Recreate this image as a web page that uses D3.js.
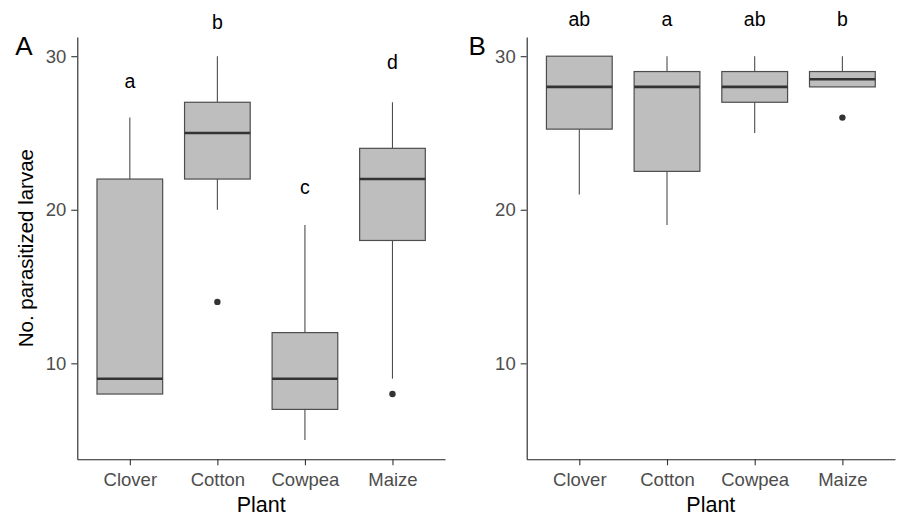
<!DOCTYPE html>
<html lang="en">
<head>
  <meta charset="UTF-8">
  <title>Parasitized larvae by plant</title>
  <script src="https://d3js.org/d3.v7.min.js"></script>
  <style>
    body { margin: 0; background: #fff; }
    text { font-family: "Liberation Sans", Arial, sans-serif; }
  </style>
</head>
<body>
  <script>
    // data
    const plants = ["Clover", "Cotton", "Cowpea", "Maize"];
    const yTicks = [10, 20, 30];

    const lowA = [8, 20, 5, 9];
    const q1A = [8, 22, 7, 18];
    const medA = [9, 25, 9, 22];
    const q3A = [22, 27, 12, 24];
    const highA = [26, 30, 19, 27];
    const outA = [[], [14], [], [8]];
    const lettersA = ["a", "b", "c", "d"];
    const letterPosA = [28.4, 32.2, 21.5, 29.6];

    const lowB = [21, 19, 25, 28];
    const q1B = [25.25, 22.5, 27, 28];
    const medB = [28, 28, 28, 28.5];
    const q3B = [30, 29, 29, 29];
    const highB = [30, 30, 30, 30];
    const outB = [[], [], [], [26]];
    const lettersB = ["ab", "a", "ab", "b"];
    const letterPosB = [32.4, 32.4, 32.4, 32.4];

    const W = 899, H = 519;
    const plotTop = 37, plotBottom = 459.3;

    const svg = d3.select("body")
      .append("svg")
      .attr("width", W)
      .attr("height", H);

    const y = d3.scaleLinear()
      .domain([3.75, 31.25])
      .range([plotBottom, plotTop]);

    const drawPanel = (label, tagX, x0, x1, low, q1, med, q3, high, outs, letters, letterPos) => {
      const x = d3.scalePoint()
        .domain(plants)
        .range([x0, x1])
        .padding(0.6);
      const bw = x.step() * 0.75;

      const g = svg.append("g");

      // whiskers
      g.selectAll(".whisker-hi")
        .data(plants)
        .join("line")
        .attr("x1", d => x(d))
        .attr("x2", d => x(d))
        .attr("y1", (d, i) => y(q3[i]))
        .attr("y2", (d, i) => y(high[i]))
        .attr("stroke", "#4d4d4d")
        .attr("stroke-width", 1.1);

      g.selectAll(".whisker-lo")
        .data(plants)
        .join("line")
        .attr("x1", d => x(d))
        .attr("x2", d => x(d))
        .attr("y1", (d, i) => y(q1[i]))
        .attr("y2", (d, i) => y(low[i]))
        .attr("stroke", "#4d4d4d")
        .attr("stroke-width", 1.1);

      // boxes
      g.selectAll(".box")
        .data(plants)
        .join("rect")
        .attr("x", d => x(d) - bw / 2)
        .attr("width", bw)
        .attr("y", (d, i) => y(q3[i]))
        .attr("height", (d, i) => y(q1[i]) - y(q3[i]))
        .attr("fill", "#bebebe")
        .attr("stroke", "#4d4d4d")
        .attr("stroke-width", 1.2);

      // medians
      g.selectAll(".median")
        .data(plants)
        .join("line")
        .attr("x1", d => x(d) - bw / 2)
        .attr("x2", d => x(d) + bw / 2)
        .attr("y1", (d, i) => y(med[i]))
        .attr("y2", (d, i) => y(med[i]))
        .attr("stroke", "#333")
        .attr("stroke-width", 2.6);

      // outliers
      const pts = [];
      plants.forEach((p, i) => outs[i].forEach(v => pts.push([p, v])));
      g.selectAll(".outlier")
        .data(pts)
        .join("circle")
        .attr("cx", d => x(d[0]))
        .attr("cy", d => y(d[1]))
        .attr("r", 3.2)
        .attr("fill", "#333");

      // significance letters
      g.selectAll(".letter")
        .data(plants)
        .join("text")
        .attr("x", d => x(d))
        .attr("y", (d, i) => y(letterPos[i]))
        .attr("dy", "0.35em")
        .attr("text-anchor", "middle")
        .attr("font-size", 19.5)
        .attr("fill", "#000")
        .text((d, i) => letters[i]);

      // axes
      const yAxis = g.append("g")
        .attr("transform", `translate(${x0},0)`)
        .call(d3.axisLeft(y).tickValues(yTicks).tickSize(6).tickSizeOuter(0).tickPadding(5));
      const xAxis = g.append("g")
        .attr("transform", `translate(0,${plotBottom})`)
        .call(d3.axisBottom(x).tickSize(6).tickSizeOuter(0).tickPadding(8));

      [yAxis, xAxis].forEach(a => {
        a.select(".domain").attr("stroke", "#222").attr("stroke-width", 1.1);
        a.selectAll(".tick line").attr("stroke", "#333").attr("stroke-width", 1.1);
        a.selectAll(".tick text")
          .attr("font-size", 18.5)
          .attr("fill", "#4d4d4d")
          .style("font-family", '"Liberation Sans", Arial, sans-serif');
      });

      // x title
      g.append("text")
        .attr("x", (x0 + x1) / 2)
        .attr("y", 511.5)
        .attr("text-anchor", "middle")
        .attr("font-size", 21.5)
        .attr("fill", "#000")
        .text("Plant");

      // panel tag
      g.append("text")
        .attr("x", tagX)
        .attr("y", 54.5)
        .attr("font-size", 26)
        .attr("fill", "#000")
        .text(label);
    };

    drawPanel("A", 15.3, 77.3, 445, lowA, q1A, medA, q3A, highA, outA, lettersA, letterPosA);
    drawPanel("B", 468.5, 526.7, 895, lowB, q1B, medB, q3B, highB, outB, lettersB, letterPosB);

    // y title (only left panel)
    svg.append("text")
      .attr("transform", `translate(33,${(plotTop + plotBottom) / 2}) rotate(-90)`)
      .attr("text-anchor", "middle")
      .attr("font-size", 20.5)
      .attr("fill", "#000")
      .text("No. parasitized larvae");
  </script>
</body>
</html>
